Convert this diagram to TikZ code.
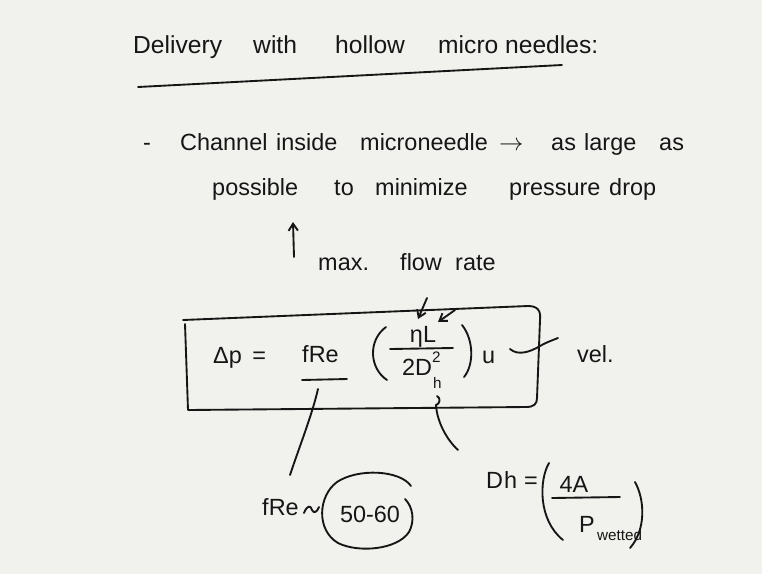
\documentclass[tikz,border=0pt]{standalone}
\usepackage{fontspec}
\setmainfont{Liberation Sans}
\usetikzlibrary{arrows.meta}
\definecolor{ink}{HTML}{161616}
\definecolor{paper}{HTML}{F1F1EE}
\begin{document}
\begin{tikzpicture}[x=0.03cm,y=-0.03cm,
  hw/.style={font=\fontsize{20}{24}\selectfont,inner sep=0pt,anchor=base west,text=ink},
  hwt/.style={font=\fontsize{21}{24}\selectfont,inner sep=0pt,anchor=base west,text=ink},
  hwsub/.style={font=\fontsize{13}{15}\selectfont,inner sep=0pt,anchor=base west,text=ink},
  pen/.style={draw=ink,line width=1.6pt,line cap=round,line join=round},
  tip/.style={pen,-{Straight Barb[length=6pt,width=8pt]}}]
\fill[paper] (0,0) rectangle (762,574);
\useasboundingbox (0,0) rectangle (762,574);

% heading
\node[hwt] (t1) at (133,53) {Delivery};
\node[hwt] (t2) at (253,53) {with};
\node[hwt] (t3) at (335,53) {hollow};
\node[hwt] (t4) at (438,53) {micro needles:};
\draw[pen] (138,87) -- (562,65);

% first statement
\node[hw] (dash) at (143,150) {-};
\node[hw] (w1) at (180,150) {Channel};
\node[hw] (w2) at (276,150) {inside};
\node[hw] (w3) at (360,150) {microneedle};
\node[hw] (w4) at (499,150) {$\rightarrow$};
\node[hw] (w5) at (551,150) {as};
\node[hw] (w6) at (584,150) {large};
\node[hw] (w7) at (659,150) {as};
\node[hw] (p1) at (212,195) {possible};
\node[hw] (p2) at (334,195) {to};
\node[hw] (p3) at (375,195) {minimize};
\node[hw] (p4) at (509,195) {pressure};
\node[hw] (p5) at (609,195) {drop};

% max flow rate note
\node[hw] (m1) at (318,270) {max.};
\node[hw] (m2) at (400,270) {flow};
\node[hw] (m3) at (455,270) {rate};
\coordinate (upfoot) at (294,257);
\coordinate (uphead) at (293,222);
\draw[tip] (upfoot) -- (uphead);

% boxed pressure drop relation
\draw[pen] (183,320) -- (528,306) .. controls (538,306) and (541,311) .. (540,320)
  -- (537,398) .. controls (537,404) and (534,407) .. (526,407) -- (188,410) -- (185,324);
\node[hw] (dp) at (213,363) {Δp\, =};
\node[hw] (fre) at (302,362) {fRe};
\draw[pen] (302,380) -- (347,379);
\coordinate (freline) at (318,389);
% fraction in parentheses
\draw[pen] (386,327) .. controls (368,340) and (369,368) .. (387,380);
\node[hw,anchor=base] (num) at (423,342) {ηL};
\draw[pen] (390,349) -- (453,348);
\node[hw,anchor=base] (den) at (417,375) {2D};
\node[hwsub] (dsup) at (432,362) {2};
\node[hwsub] (dsub) at (433,388) {h};
\draw[pen] (462,325) .. controls (474,340) and (474,365) .. (464,377);
\node[hw] (u) at (482,363) {u};
\coordinate (uend) at (510,349);
\node[hw] (vel) at (577,362) {vel.};
\draw[pen] (uend) .. controls (518,356) and (530,352) .. (540,346)
  .. controls (547,342) and (553,340) .. (558,338);
% pointers to eta and L
\draw[tip] (427,298) -- (418,319);
\draw[tip] (455,310) -- (438,322);

% leaders from the box
\coordinate (frefoot) at (290,475);
\draw[pen] (freline) .. controls (312,415) and (300,445) .. (frefoot);
\coordinate (dhtop) at (437,396);
\coordinate (dhfoot) at (458,450);
\draw[pen] (dhtop) .. controls (441,398) and (440,404) .. (436,405)
  .. controls (437,422) and (447,440) .. (dhfoot);

% f Re estimate
\node[hw] (fre2) at (262,515) {fRe};
\coordinate (tilA) at (304,513);
\coordinate (tilB) at (319,507);
\draw[pen] (tilA) .. controls (307,505) and (311,505) .. (312,510)
  .. controls (314,514) and (317,512) .. (tilB);
\draw[pen] (411,486) .. controls (400,470) and (358,468) .. (337,482)
  .. controls (318,496) and (316,530) .. (338,543)
  .. controls (358,553) and (397,550) .. (409,532)
  .. controls (415,521) and (413,507) .. (405,499);
\node[hw,anchor=base] (range) at (370,522) {50-60};

% hydraulic diameter
\node[hw] (dh) at (486,488) {D};
\node[hw] (dhs) at (504,488) {h};
\node[hw] (eq) at (524,488) {=};
\draw[pen] (549,463) .. controls (539,480) and (538,520) .. (563,540);
\node[hw,anchor=base] (fa) at (574,492) {4A};
\draw[pen] (552,498) -- (620,497);
\node[hw] (pw) at (579,532) {P};
\node[hwsub] (pws) at (597,540) {wetted};
\draw[pen] (635,482) .. controls (645,500) and (646,530) .. (630,548);
\end{tikzpicture}
\end{document}
